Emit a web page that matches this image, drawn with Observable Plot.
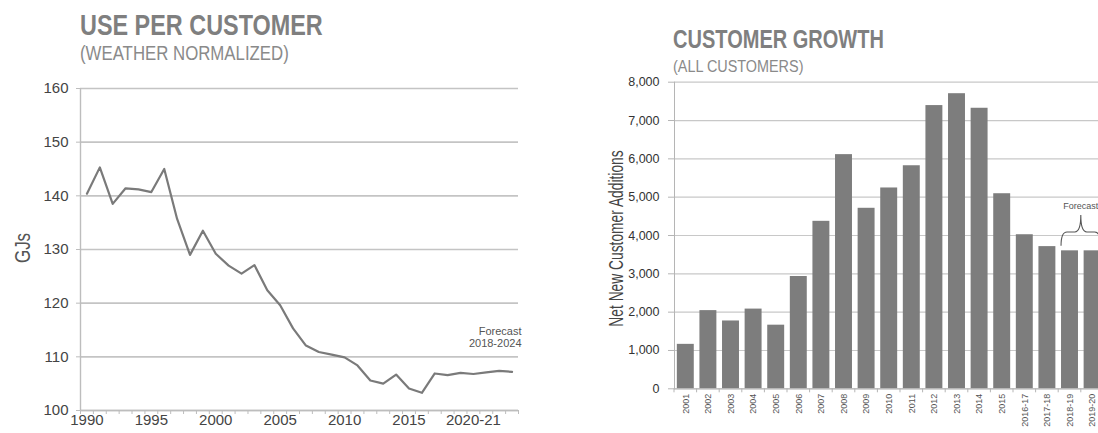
<!DOCTYPE html>
<html><head><meta charset="utf-8">
<script src="https://cdn.jsdelivr.net/npm/d3@7"></script>
<script src="https://cdn.jsdelivr.net/npm/@observablehq/plot@0.6"></script>
<style>
html,body{margin:0;padding:0;background:#fff;overflow:hidden;width:1098px;height:433px;}
#wrap{position:relative;width:1098px;height:433px;overflow:hidden;font-family:"Liberation Sans",Arial,sans-serif;}
.t{position:absolute;white-space:nowrap;transform-origin:0 0;color:#7f7f7f;}
#wrap svg{position:absolute;left:0;top:0;overflow:visible;max-width:none !important;}
</style></head><body><div id="wrap">
<div class="t" id="t1" style="left:80px;top:9.6px;font-size:30px;line-height:30px;font-weight:bold;transform:scaleX(0.78)">USE PER CUSTOMER</div>
<div class="t" id="t2" style="left:80px;top:43px;font-size:20px;line-height:20px;color:#8a8a8a;transform:scaleX(0.84)">(WEATHER NORMALIZED)</div>
<div class="t" id="t3" style="left:673px;top:26.3px;font-size:26px;line-height:26px;font-weight:bold;transform:scaleX(0.77)">CUSTOMER GROWTH</div>
<div class="t" id="t4" style="left:673px;top:58.5px;font-size:16px;line-height:16px;color:#8a8a8a;transform:scaleX(0.9)">(ALL CUSTOMERS)</div>
</div>
<script>
// ---- Use per customer (GJs) ----
const useYears = [1990,1991,1992,1993,1994,1995,1996,1997,1998,1999,2000,2001,2002,2003,2004,2005,2006,2007,2008,2009,2010,2011,2012,2013,2014,2015,2016,2017,2018,2019,2020,2021,2022,2023];
const useValues = [140.4,145.3,138.5,141.4,141.2,140.7,145.0,135.7,129.0,133.5,129.2,127.0,125.5,127.1,122.4,119.6,115.3,112.1,110.9,110.4,109.9,108.4,105.6,105.0,106.7,104.1,103.3,106.9,106.6,107.0,106.8,107.1,107.4,107.2];
const useYTicks = [100,110,120,130,140,150,160];
const useXTicks = [1990,1995,2000,2005,2010,2015,2020];
const useXTickLabels = ["1990","1995","2000","2005","2010","2015","2020-21"];
const useNote = "Forecast\n2018-2024";

// ---- Customer growth ----
const growthCategories = ["2001","2002","2003","2004","2005","2006","2007","2008","2009","2010","2011","2012","2013","2014","2015","2016-17","2017-18","2018-19","2019-20"];
const growthValues = [1160,2040,1770,2080,1660,2930,4370,6110,4710,5240,5820,7390,7700,7320,5090,4020,3710,3600,3600];
const growthYTicks = [0,1000,2000,3000,4000,5000,6000,7000,8000];
const forecastCategories = ["2018-19","2019-20"];
const forecastLabel = "Forecast";

const FONT = "Liberation Sans, Arial, sans-serif";
const wrap = document.getElementById("wrap");

const useData = useYears.map((y,i)=>({year:y, value:useValues[i]}));
const left = Plot.plot({
  width: 1098, height: 433,
  marginLeft: 80, marginRight: 580, marginTop: 88, marginBottom: 23,
  style: {fontFamily: FONT, background: "transparent", overflow: "visible"},
  x: {domain: [useYears[0]-0.5, useYears[useYears.length-1]+0.5]},
  y: {domain: [100, 160]},
  marks: [
    Plot.gridY(useYTicks, {stroke: "#c4c4c4", strokeOpacity: 1, strokeWidth: 1.6}),
    Plot.axisY(useYTicks, {tickSize: 4, tickPadding: 8, stroke: "#bdbdbd", fontSize: 15, fill: "#444", label: null, style:{letterSpacing:"1.3px"}}),
    Plot.ruleX([useYears[0]-0.5], {stroke: "#bdbdbd", strokeWidth: 1.4}),
    Plot.ruleY([100], {stroke: "#bdbdbd", strokeWidth: 1.4}),
    Plot.axisX(useYears.map(y=>y-0.5).concat([useYears[useYears.length-1]+0.5]), {tickSize: 4, stroke: "#bdbdbd", tickFormat: () => "", label: null}),
    Plot.axisX(useXTicks, {tickSize: 0, tickPadding: 4, fontSize: 15, fill: "#444", label: null,
      tickFormat: (d) => useXTickLabels[useXTicks.indexOf(d)], style:{letterSpacing:"1.3px"}}),
    Plot.line(useData, {x: "year", y: "value", stroke: "#7a7a7a", strokeWidth: 2.2}),
    Plot.text([useNote], {x: useYears[useYears.length-1]+0.5, y: 113.6, dx: 3, textAnchor: "end", lineAnchor: "middle", fontSize: 11, fill: "#555", lineHeight: 1.05})
  ]
});
wrap.appendChild(left);
d3.select(left).append("text")
  .attr("transform", "translate(30,248) rotate(-90) scale(0.77,1)")
  .attr("text-anchor", "middle").attr("font-size", 22).attr("fill", "#555")
  .attr("font-family", FONT).text("GJs");

const growth = growthCategories.map((c,i)=>({cat:c, value:growthValues[i]}));
const right = Plot.plot({
  width: 1104, height: 433,
  marginLeft: 674, marginRight: 0, marginTop: 81.7, marginBottom: 44.7,
  style: {fontFamily: FONT, background: "transparent", overflow: "visible", maxWidth: "none"},
  x: {domain: growthCategories, range: [674, 1103.4], round: false, paddingInner: 0.25, paddingOuter: 0.125, align: 0.5},
  y: {domain: [0, 8000]},
  marks: [
    Plot.gridY(growthYTicks, {stroke: "#c8c8c8", strokeOpacity: 1, strokeWidth: 1.2}),
    Plot.barY(growth, {x: "cat", y: "value", fill: "#7d7d7d"}),
    Plot.frame({anchor: "left", stroke: "#b5b5b5"}),
    Plot.ruleY([0], {stroke: "#b5b5b5"}),
    Plot.axisY(growthYTicks, {tickSize: 6, tickPadding: 9, stroke: "#b5b5b5", tickFormat: d3.format(","), fontSize: 12.5, fill: "#333", label: null}),
    Plot.axisX({tickSize: 0, tickRotate: -90, tickPadding: 5, fontSize: 9, fill: "#555", label: null})
  ]
});
right.style.maxWidth = "none";
wrap.appendChild(right);
const rs = d3.select(right);
const sx = right.scale("x"), sy = right.scale("y");
const gap = sx.step - sx.bandwidth;
const y0 = sy.apply(0);
const bounds = growthCategories.map(c => sx.apply(c) - gap/2);
bounds.push(sx.apply(growthCategories[growthCategories.length-1]) + sx.bandwidth + gap/2);
rs.append("g").attr("stroke", "#b5b5b5").selectAll("line").data(bounds).join("line")
  .attr("x1", d=>d).attr("x2", d=>d).attr("y1", y0).attr("y2", y0+4);
// Forecast brace
const bx1 = sx.apply(forecastCategories[0]);
const bx2 = sx.apply(forecastCategories[1]) + sx.bandwidth;
const bm = (bx1+bx2)/2;
const yb = sy.apply(3720), ym = sy.apply(4080), yt = sy.apply(4520);
const r = 6;
rs.append("path").attr("fill","none").attr("stroke","#555").attr("stroke-width",1.1)
  .attr("d", `M${bx1},${yb} Q${bx1},${ym} ${bx1+r},${ym} L${bm-r},${ym} Q${bm},${ym} ${bm},${yt} M${bm},${yt} Q${bm},${ym} ${bm+r},${ym} L${bx2-r},${ym} Q${bx2},${ym} ${bx2},${yb}`);
rs.append("text").attr("x", bm).attr("y", sy.apply(4520) - 6).attr("text-anchor","middle")
  .attr("font-size", 9).attr("fill", "#555").attr("font-family", FONT).text(forecastLabel);
rs.append("text")
  .attr("transform", `translate(622.5,238.5) rotate(-90) scale(0.69,1)`)
  .attr("text-anchor", "middle").attr("font-size", 20).attr("fill", "#444")
  .attr("font-family", FONT).text("Net New Customer Additions");
</script>
</body></html>
